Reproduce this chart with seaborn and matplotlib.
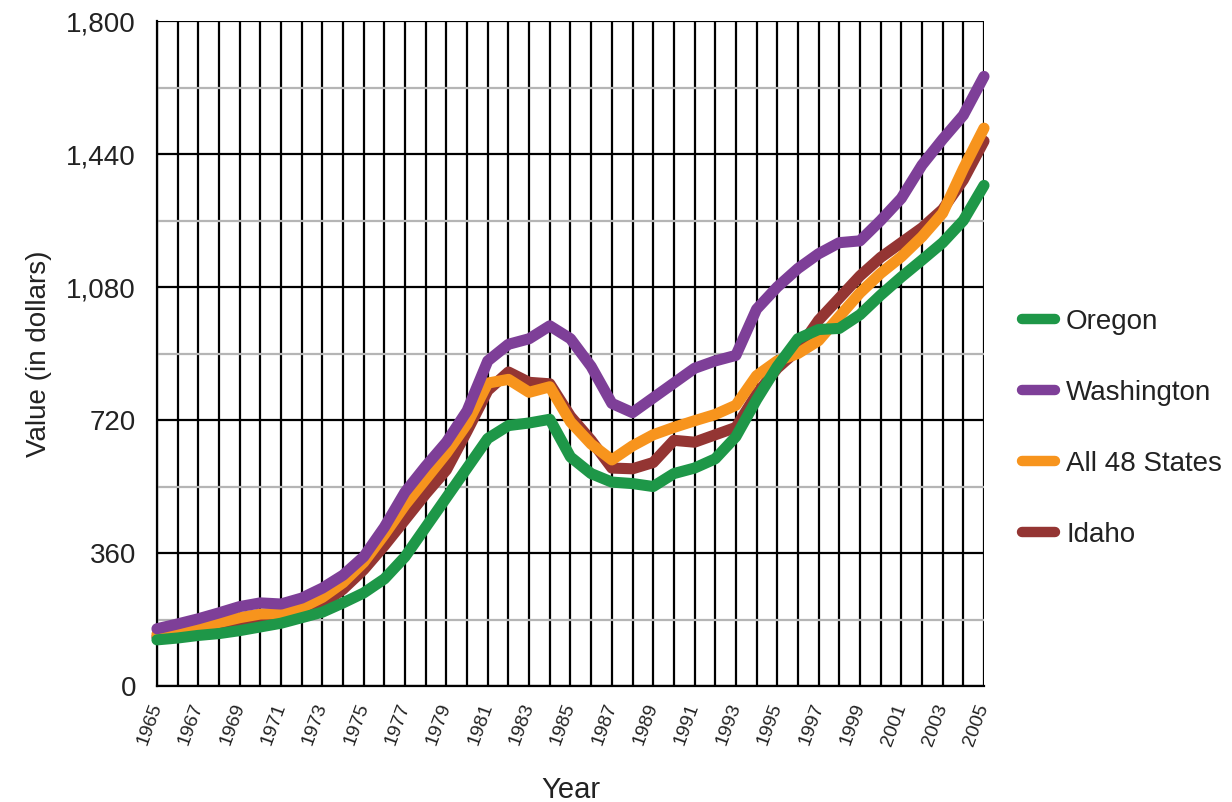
import numpy as np, pandas as pd
import matplotlib; matplotlib.use("Agg")
import matplotlib.pyplot as plt
from matplotlib.lines import Line2D
import seaborn as sns

sns.set_style("white")
plt.rcParams["font.family"] = ["Liberation Sans", "DejaVu Sans"]

YEARS = list(range(1965, 2006))
OREGON = [125, 130, 137, 142, 150, 160, 170, 185, 200, 225,
          252, 290, 350, 430, 510, 590, 670, 705, 712, 722,
          620, 575, 552, 548, 540, 575, 590, 615, 675, 775,
          865, 940, 965, 968, 1005, 1058, 1107, 1153, 1200, 1260,
          1355]
WASHINGTON = [155, 168, 182, 198, 215, 225, 222, 238, 265, 300,
              350, 430, 525, 595, 660, 745, 880, 925, 940, 975,
              940, 865, 765, 740, 780, 820, 860, 880, 895, 1020,
              1080, 1130, 1170, 1200, 1205, 1260, 1320, 1410, 1480, 1545,
              1650]
ALL48 = [140, 150, 160, 172, 185, 195, 196, 212, 240, 280,
         335, 410, 490, 560, 630, 710, 820, 830, 795, 810,
         715, 655, 612, 650, 680, 700, 718, 735, 760, 840,
         880, 900, 935, 1000, 1064, 1117, 1162, 1216, 1280, 1400,
         1510]
IDAHO = [133, 140, 148, 156, 165, 172, 178, 195, 222, 262,
         315, 380, 450, 520, 585, 690, 800, 850, 822, 818,
         730, 665, 590, 588, 605, 665, 660, 680, 700, 790,
         860, 910, 990, 1050, 1110, 1160, 1200, 1240, 1290, 1370,
         1475]

SERIES = {"Oregon": OREGON, "Washington": WASHINGTON,
          "All 48 States": ALL48, "Idaho": IDAHO}
COLORS = {"Oregon": "#1e9748", "Washington": "#7e3f98",
          "All 48 States": "#f7941d", "Idaho": "#943533"}
DRAW_ORDER = ["Idaho", "All 48 States", "Washington", "Oregon"]

df = pd.concat([pd.DataFrame({"Year": YEARS, "Value": v, "Region": k})
                for k, v in SERIES.items()], ignore_index=True)

fig = plt.figure(figsize=(12.32, 8.02), dpi=100)
ax = fig.add_axes([0.1274, 0.1446, 0.6713, 0.8292])

for name in DRAW_ORDER:
    sns.lineplot(data=df[df["Region"] == name], x="Year", y="Value", ax=ax,
                 color=COLORS[name], lw=8, solid_capstyle="round",
                 solid_joinstyle="round", clip_on=False, legend=False, zorder=3)

ax.set_xlim(1965, 2005)
ax.set_ylim(0, 1800)
ax.set_xticks(YEARS)
ax.set_xticklabels([str(y) if (y - 1965) % 2 == 0 else "" for y in YEARS],
                   rotation=70, ha="right", va="center", rotation_mode="anchor",
                   fontsize=14, color="#222222")
ax.set_yticks(np.arange(0, 1801, 360))
ax.set_yticks(np.arange(180, 1800, 360), minor=True)
ax.set_yticklabels([f"{v:,}" for v in range(0, 1801, 360)], fontsize=20, color="#222222")
ax.tick_params(axis="x", length=9, width=1.5, color="black", pad=4)
ax.tick_params(axis="y", which="both", length=9, width=1.2, color="black", pad=6)

ax.set_axisbelow(True)
ax.grid(axis="x", which="major", color="black", lw=1.6)
ax.grid(axis="y", which="major", color="black", lw=1.6)
ax.grid(axis="y", which="minor", color="#b5b5b5", lw=1.6)
for s in ["top", "right"]:
    ax.spines[s].set_visible(False)
for s in ["left", "bottom"]:
    ax.spines[s].set_color("black")
    ax.spines[s].set_linewidth(1.6)

ax.set_xlabel("Year", fontsize=21, color="#222222", labelpad=20)
ax.set_ylabel("Value (in dollars)", fontsize=20, color="#222222", labelpad=10)

handles = [Line2D([0], [0], color=COLORS[n], lw=7.5, solid_capstyle="round")
           for n in SERIES]
fig.legend(handles, list(SERIES), loc="center left", bbox_to_anchor=(0.818, 0.466),
           frameon=False, fontsize=20, handlelength=1.2, handletextpad=0.4,
           labelspacing=1.62, borderpad=0, labelcolor="#222222")

fig.savefig("out.png", dpi=100)
